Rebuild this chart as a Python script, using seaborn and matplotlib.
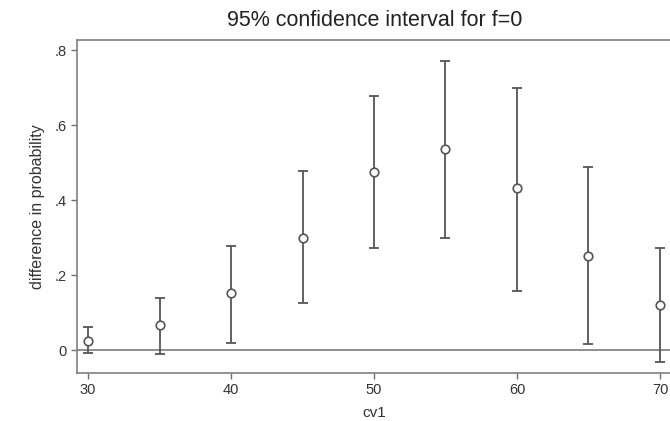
import matplotlib
matplotlib.use("Agg")
import matplotlib.pyplot as plt
import seaborn as sns
import pandas as pd
from matplotlib.ticker import FuncFormatter

cv1 = [30, 35, 40, 45, 50, 55, 60, 65, 70]
diff = [0.025, 0.067, 0.151, 0.300, 0.474, 0.535, 0.433, 0.251, 0.120]
lower = [-0.008, -0.011, 0.020, 0.125, 0.271, 0.298, 0.158, 0.016, -0.031]
upper = [0.062, 0.140, 0.278, 0.478, 0.677, 0.771, 0.698, 0.487, 0.271]
yticks = [0, 0.2, 0.4, 0.6, 0.8]
xticks = [30, 40, 50, 60, 70]

df = pd.DataFrame({"cv1": cv1, "diff": diff, "lower": lower, "upper": upper})

sns.set_theme(style="white")
plt.rcParams["font.family"] = ["Liberation Sans", "DejaVu Sans"]

fig = plt.figure(figsize=(6.7, 4.21), dpi=100)
ax = fig.add_axes([77 / 670, 48 / 421, 595 / 670, 333 / 421])

line_col = "#555555"
ax.axhline(0, color="#707070", lw=1.1, zorder=1)
ax.errorbar(df["cv1"], df["diff"],
            yerr=[df["diff"] - df["lower"], df["upper"] - df["diff"]],
            fmt="none", ecolor=line_col, elinewidth=1.3, capsize=3.5, capthick=1.3, zorder=2)
sns.scatterplot(data=df, x="cv1", y="diff", ax=ax, marker="o", s=38,
                facecolor="white", edgecolor=line_col, linewidth=1.2, zorder=3)

ax.set_xlim(29.23, 70.84)
ax.set_ylim(-0.0613, 0.8267)
ax.set_xticks(xticks)
ax.set_yticks(yticks)
ax.yaxis.set_major_formatter(FuncFormatter(lambda v, p: "0" if abs(v) < 1e-9 else ("%.1f" % v).lstrip("0")))
ax.tick_params(axis="both", direction="out", length=4, width=1, color="#707070",
               labelsize=10.5, labelcolor="#333333", left=True, bottom=True)
for s in ax.spines.values():
    s.set_color("#808080")
    s.set_linewidth(1.2)

ax.set_xlabel("cv1", fontsize=11, color="#333333", labelpad=6)
ax.set_ylabel("difference in probability", fontsize=11.5, color="#333333", labelpad=7)
fig.text(375 / 670, 1 - 21 / 421, "95% confidence interval for f=0", ha="center", va="center",
         fontsize=15.5, color="#222222")

fig.savefig("out.png", dpi=100, facecolor="white")
